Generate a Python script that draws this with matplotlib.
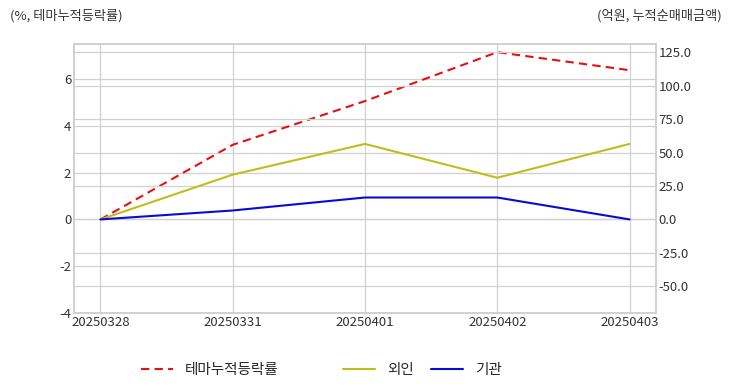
import matplotlib.pyplot as plt

plt.style.use('seaborn-v0_8-whitegrid')
plt.rcParams['font.family'] = ['Noto Sans CJK KR', 'DejaVu Sans']
plt.rcParams['axes.unicode_minus'] = False

dates = ['20250328', '20250331', '20250401', '20250402', '20250403']
theme_ret = [0.0, 3.19, 5.06, 7.15, 6.38]      # %, left axis
foreign = [0.0, 33.5, 56.5, 31.2, 56.5]        # 억원, right axis
inst = [0.0, 6.7, 16.4, 16.4, 0.0]             # 억원, right axis

fig = plt.figure(figsize=(7.32, 3.92), dpi=100)
ax1 = fig.add_axes([74/732, 1-313/392, (656-74)/732, (313-44)/392])
ax2 = ax1.twinx()

x = range(len(dates))
l1, = ax1.plot(x, theme_ret, color='#e8100f', linestyle=(0, (4, 2.5)), lw=1.5, label='테마누적등락률')
l2, = ax2.plot(x, foreign, color='#c2bc1c', lw=1.5, label='외인')
l3, = ax2.plot(x, inst, color='#0a0ad8', lw=1.5, label='기관')

ax1.set_xlim(-0.2, 4.2)
ax1.set_ylim(-4, 7.5)
ax2.set_ylim(-70, 131.25)
ax1.set_yticks([-4, -2, 0, 2, 4, 6])
ax2.set_yticks([-50, -25, 0, 25, 50, 75, 100, 125])
ax2.set_yticklabels([f'{v:.1f}' for v in [-50, -25, 0, 25, 50, 75, 100, 125]])
ax1.set_xticks(list(x))
ax1.set_xticklabels(dates)

for ax in (ax1, ax2):
    ax.tick_params(labelsize=9.5, colors='#333333', pad=2)
    ax.grid(True, color='#d0d0d0', lw=0.9)
    for s in ax.spines.values():
        s.set_visible(True)
        s.set_color('#d0d0d0')
        s.set_linewidth(1.2)

fig.text(10/732, 1-16/392, '(%, 테마누적등락률)', fontsize=9.5, color='#333333', va='center')
fig.text(722/732, 1-16/392, '(억원, 누적순매매금액)', fontsize=9.5, color='#333333', va='center', ha='right')

fig.legend(handles=[l1], loc='center left', bbox_to_anchor=(128/732, 1-370/392),
           frameon=False, fontsize=10.5, handlelength=2.2)
fig.legend(handles=[l2, l3], loc='center left', bbox_to_anchor=(330/732, 1-370/392),
           frameon=False, fontsize=10.5, ncol=2, handlelength=2.2, columnspacing=1.2)

fig.savefig('out.png', dpi=100)
